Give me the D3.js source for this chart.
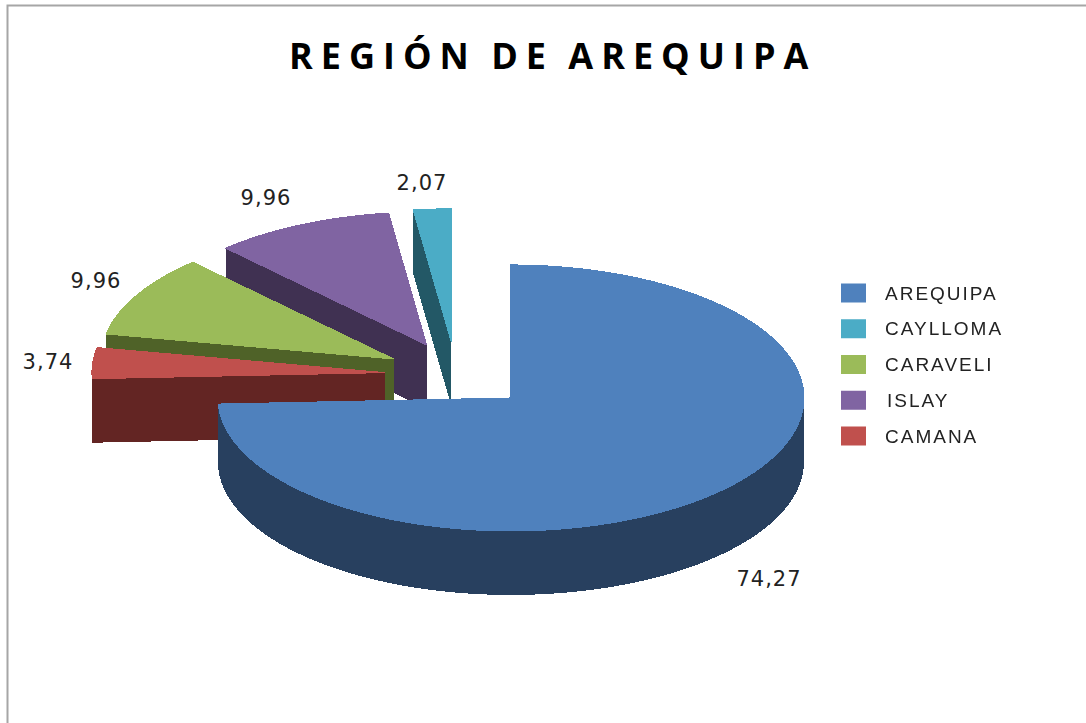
<!DOCTYPE html>
<html>
<head>
<meta charset="utf-8">
<title>Región de Arequipa</title>
<script src="https://cdn.jsdelivr.net/npm/d3@7"></script>
<style>
  html, body { margin: 0; padding: 0; background: #fff; }
  svg { display: block; }
</style>
</head>
<body>
<div id="chart"></div>
<script>
// Data, in legend order
var categories = ["AREQUIPA", "CAYLLOMA", "CARAVELI", "ISLAY", "CAMANA"];
var values = [74.27, 2.07, 9.96, 9.96, 3.74];
var valueLabels = ["74,27", "2,07", "9,96", "9,96", "3,74"];
// clockwise from 12 o'clock
var sliceOrder = ["AREQUIPA", "CAMANA", "CARAVELI", "ISLAY", "CAYLLOMA"];
// back to front
var drawOrder = ["CAYLLOMA", "ISLAY", "CARAVELI", "CAMANA", "AREQUIPA"];
var topColors = ["#4f81bd", "#4bacc6", "#9bbb59", "#8064a2", "#c0504d"];
var sideColors = ["#28405f", "#235866", "#4f6228", "#403152", "#632523"];

var width = 1086, height = 723;
var centerX = 458, centerY = 375, radiusX = 293, radiusY = 133, depth = 64;
var explode = 0.25;

// where the value labels sit
var labelPos = {
  AREQUIPA: [769, 586],
  CAYLLOMA: [422, 190],
  CARAVELI: [96, 288],
  ISLAY: [266, 205],
  CAMANA: [48, 369]
};

var svg = d3.select("#chart")
  .append("svg")
    .attr("width", width)
    .attr("height", height);

// soft edge on the legend text, the source picture is a blurry screenshot
svg.append("filter")
  .attr("id", "soft")
  .append("feGaussianBlur")
    .attr("stdDeviation", 0.4);

// chart frame, only top and left show in the picture
svg.append("path")
  .attr("d", "M7.5," + height + "V5.5H" + width)
  .attr("fill", "none")
  .attr("stroke", "#a6a6a6")
  .attr("stroke-width", 2);

svg.append("text")
  .attr("x", 289)
  .attr("y", 69)
  .attr("font-family", "'Open Sans'")
  .attr("font-weight", 700)
  .attr("font-size", 36)
  .attr("letter-spacing", 8)
  .attr("word-spacing", -3)
  .attr("fill", "#000")
  .text("REGIÓN DE AREQUIPA");

var x = d3.scaleLinear().domain([-1, 1]).range([centerX - radiusX, centerX + radiusX]);
var y = d3.scaleLinear().domain([-1, 1]).range([centerY - radiusY, centerY + radiusY]);

var color = d3.scaleOrdinal().domain(categories).range(topColors);
var side = d3.scaleOrdinal().domain(categories).range(sideColors);

var pie = d3.pie()
  .value(function (d) { return d.value; })
  .sort(function (a, b) { return sliceOrder.indexOf(a.name) - sliceOrder.indexOf(b.name); });

var slices = pie(categories.map(function (name, i) {
  return { name: name, value: values[i], label: valueLabels[i] };
}));

// outline of a slice in screen pixels, tip first
function outline(s) {
  var mid = (s.startAngle + s.endAngle) / 2;
  var ox = explode * Math.sin(mid);
  var oy = -explode * Math.cos(mid);
  var pts = [[x(ox), y(oy)]];
  var n = Math.ceil((s.endAngle - s.startAngle) / 0.02);
  d3.range(n + 1).forEach(function (i) {
    var a = s.startAngle + (s.endAngle - s.startAngle) * i / n;
    pts.push([x(ox + Math.sin(a)), y(oy - Math.cos(a))]);
  });
  return pts;
}

// walls as single quads so the overlaps stay filled
function walls(pts) {
  return pts.map(function (p, i) {
    var q = pts[(i + 1) % pts.length];
    return [p, q, [q[0], q[1] + depth], [p[0], p[1] + depth]];
  });
}

var line = d3.line().curve(d3.curveLinearClosed);

var sliceG = svg.selectAll("g.slice")
  .data(drawOrder.map(function (name) {
    return slices.find(function (s) { return s.data.name === name; });
  }))
  .enter().append("g")
    .attr("class", "slice")
    .attr("shape-rendering", "crispEdges")
    // the thin slice sits a little further left in the picture
    .attr("transform", function (s) { return s.data.name === "CAYLLOMA" ? "translate(-2,0)" : null; });

sliceG.each(function (s) {
  var g = d3.select(this);
  var pts = outline(s);

  g.selectAll("path.wall")
    .data(walls(pts))
    .enter().append("path")
      .attr("class", "wall")
      .attr("d", line)
      .attr("fill", side(s.data.name));

  g.append("path")
    .attr("d", line(pts))
    .attr("fill", color(s.data.name))
    .attr("stroke", color(s.data.name))
    .attr("stroke-width", 1);
});

// value labels
svg.selectAll("text.value")
  .data(slices)
  .enter().append("text")
    .attr("class", "value")
    .attr("x", function (s) { return labelPos[s.data.name][0]; })
    .attr("y", function (s) { return labelPos[s.data.name][1]; })
    .attr("text-anchor", "middle")
    .attr("font-family", "'DejaVu Sans'")
    .attr("font-size", 21)
    .attr("letter-spacing", 1)
    .attr("fill", "#222")
    .text(function (s) { return s.data.label; });

// legend
var legendY = d3.scalePoint().domain(categories).range([293, 436]);

var legend = svg.selectAll("g.legend")
  .data(categories)
  .enter().append("g")
    .attr("class", "legend")
    .attr("transform", function (d) { return "translate(841," + legendY(d) + ")"; });

legend.append("rect")
  .attr("y", -9.5)
  .attr("width", 25)
  .attr("height", 19)
  .attr("fill", function (d) { return color(d); });

legend.append("text")
  .attr("x", function (d) { return d === "ISLAY" ? 46 : 44; })
  .attr("y", 6.5)
  .attr("font-family", "'Liberation Sans'")
  .attr("font-size", 19)
  .attr("letter-spacing", 2)
  .attr("fill", "#222")
  .attr("filter", "url(#soft)")
  .text(function (d) { return d; });
</script>
</body>
</html>
